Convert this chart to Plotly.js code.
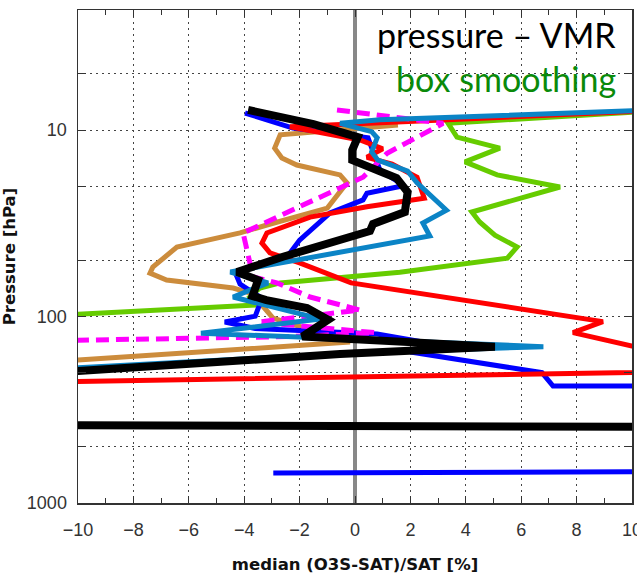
<!DOCTYPE html>
<html>
<head>
<meta charset="utf-8">
<script src="https://cdn.plot.ly/plotly-3.0.1.min.js"></script>
<style>html,body{margin:0;padding:0;background:#fff;}#chart{width:637px;height:574px;}</style>
</head>
<body>
<div id="chart"></div>
<script>
// median relative difference (%) vs pressure (hPa)
const xGreen = [12, 3.36, 3.68, 5.23, 3.97, 5.13, 7.4, 4.22, 4.5, 5.05, 5.85, 5.5, 1.62, -2.7, -3.43, -3.8, -3.57, -10, -11];
const pGreen = [7.7, 9.2, 10.9, 12.5, 14.8, 17.4, 20.2, 27.5, 31.1, 36.6, 42.4, 48.6, 57.8, 66.0, 70.3, 78.6, 86.8, 98.2, 99];

const xTan = [1.55, -0.18, -2.7, -2.9, -2.64, -2.1, -0.54, -0.29, -0.54, -1.0, -3.18, -4.15, -6.43, -7.3, -7.4, -6.8, -4.4, -3.8, -3.36, -2.96, -0.18, -10, -11];
const pTan = [9.4, 9.9, 10.6, 12.5, 14.1, 15.4, 17.4, 19.2, 21.5, 26.2, 32.3, 35.6, 42.4, 54.3, 58.5, 63.7, 70.3, 74.7, 86.8, 102, 137, 171, 175];

const xBlue = [-3.97, -2.24, 0.47, 0.9, 1.52, 1.7, 0.43, 0.29, -0.9, -2.0, -2.45, -4.33, -4.15, -3.36, -3.6, -4.7, -3.6, 0.8, 3.07, 2.0, 6.75, 7.15, 10, 13, 30, -2.95];
const pBlue = [8.1, 9.75, 11.0, 16.4, 18.8, 19.95, 21.8, 23.7, 27.8, 38.9, 47.8, 57.7, 67, 79.7, 99.5, 107, 116, 124, 142, 155, 200, 236, 236, 236, 665, 690];

const xRed = [12, -2.35, 0.18, 1.0, 0.43, 1.34, 2.24, 2.5, 0.43, -1.62, -3.18, -3.36, -3.07, -2.0, -0.14, 8.95, 7.87, 10, 15, -15];
const pRed = [7.7, 9.6, 11.3, 12.6, 14.0, 15.2, 17.9, 23.2, 25.8, 29.3, 35.6, 40.4, 45.6, 51.6, 66, 106.5, 122, 144, 194, 229];

const xMagenta = [-0.65, 3.18, 1.16, 0.29, -4.04, -3.8, -3.68, -2.82, -1.62, 0.18, -3.5, 0.72, -2.3, -10, -11];
const pMagenta = [7.8, 9.2, 13.3, 17.9, 35.6, 49.8, 61.2, 66, 78.6, 92.3, 107, 122, 128, 134, 134];

const xCyan = [12, 0.9, -0.54, 0.6, 0.8, 0.6, 0.83, 1.9, 2.24, 3.3, 2.45, 2.7, -4.5, -3.14, -4.4, -1.26, -5.56, 6.8, -0.2, -10, -11];
const pCyan = [7.7, 8.8, 9.2, 10.2, 11.0, 13.1, 14.5, 16.6, 19.2, 26.9, 31.5, 37, 57.7, 66, 78.6, 103, 123, 145, 157, 188, 192];

const xBlack = [-3.86, -1.5, 0.1, -0.1, -0.1, 0.43, 1.5, 1.9, 1.8, 0.65, 0.54, -2.6, -4.26, -3.5, -3.7, -3.2, -1.73, -0.97, -1.9, 5.05, -0.54, -10, -40, 40];
const pBlack = [7.8, 9.3, 10.9, 12.8, 14.5, 15.6, 18.1, 21.5, 27.5, 31.9, 34.8, 47.8, 57.7, 63.7, 77.6, 81.6, 90, 104, 128, 145, 159, 196, 372, 401];

const refX = [0, 0];
const pRange = [1000, 2.27];
const xTickVals = [-10, -8, -6, -4, -2, 0, 2, 4, 6, 8, 10];
const yTickVals = [2, 5, 10, 20, 50, 100, 200, 500, 1000];
const yTickText = ['', '', '10', '', '', '100', '', '', '1000'];

function series(x, y, color, width, dash) {
  return {x: x, y: y, type: 'scatter', mode: 'lines', hoverinfo: 'skip',
          line: {color: color, width: width, dash: dash || 'solid'}, showlegend: false};
}

const traces = [
  series(refX, pRange, '#888888', 4),
  series(xGreen, pGreen, '#66cc00', 5),
  series(xTan, pTan, '#cc8c3c', 5),
  series(xBlue, pBlue, '#0000ff', 5),
  series(xRed, pRed, '#ff0000', 5),
  series(xMagenta, pMagenta, '#ff00ff', 5, '13px,7px'),
  series(xCyan, pCyan, '#0b84c6', 5),
  series(xBlack, pBlack, '#000000', 8)
];

const tickFont = {family: 'Liberation Sans, Arial, sans-serif', size: 18, color: '#333'};
const titleFont = {family: 'DejaVu Sans, sans-serif', size: 16.5, color: '#111', weight: 'bold'};

const layout = {
  width: 637, height: 574,
  margin: {l: 78, r: 5, t: 10, b: 71},
  paper_bgcolor: '#fff', plot_bgcolor: '#fff',
  xaxis: {
    range: [-10, 10], tickvals: xTickVals, ticks: 'inside', ticklen: 7, tickcolor: '#333',
    showline: true, linecolor: '#333', linewidth: 1.5, mirror: 'ticks',
    showgrid: true, gridcolor: '#444', gridwidth: 1, griddash: '2px,4px',
    zeroline: false, tickfont: tickFont, ticklabelstandoff: 10, ticklabeloverflow: 'allow',
    minor: {dtick: 1, tick0: 0, ticks: 'inside', ticklen: 5, tickcolor: '#333', showgrid: false},
    title: {text: 'median (O3S-SAT)/SAT [%]', font: titleFont, standoff: 20}
  },
  yaxis: {
    type: 'log', range: [3, Math.log10(2.27)],
    tickvals: yTickVals, ticktext: yTickText, ticks: 'inside', ticklen: 8, tickcolor: '#333',
    showline: true, linecolor: '#333', linewidth: 1.5, mirror: 'ticks',
    showgrid: true, gridcolor: '#444', gridwidth: 1, griddash: '2px,4px',
    zeroline: false, tickfont: tickFont, ticklabelstandoff: 6,
    title: {text: 'Pressure [hPa]', font: titleFont, standoff: 12}
  },
  annotations: [
    {text: 'pressure – VMR', xref: 'paper', yref: 'paper', x: 0.975, y: 0.95,
     xanchor: 'right', yanchor: 'middle', showarrow: false,
     font: {family: 'Lato, Open Sans, sans-serif', size: 34, color: '#000'}},
    {text: 'box smoothing', xref: 'paper', yref: 'paper', x: 0.975, y: 0.862,
     xanchor: 'right', yanchor: 'middle', showarrow: false,
     font: {family: 'Lato, Open Sans, sans-serif', size: 34, color: '#0a8a0a'}}
  ]
};

Plotly.newPlot('chart', traces, layout, {staticPlot: true, displayModeBar: false});
</script>
</body>
</html>
